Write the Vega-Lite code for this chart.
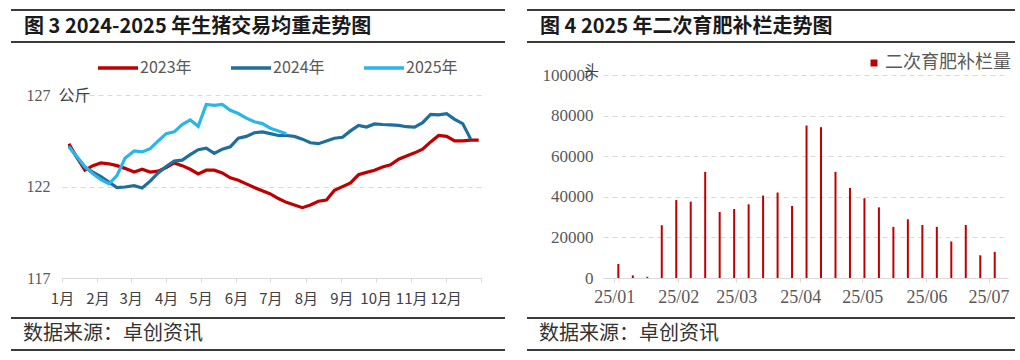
{
  "$schema": "https://vega.github.io/schema/vega-lite/v6.json",
  "background": "white",
  "padding": {"left": 10, "top": 9, "right": 0, "bottom": 0},
  "config": {"view": {"stroke": null}},
  "columns": 2,
  "spacing": {"row": 11, "column": 20},
  "resolve": {"scale": {"color": "independent"}, "legend": {"color": "independent"}},
  "datasets": {
    "weight": [
      {"year": "2023年", "date": "2023/01/07", "w": 124.35},
      {"year": "2023年", "date": "2023/01/14", "w": 123.6},
      {"year": "2023年", "date": "2023/01/21", "w": 122.9},
      {"year": "2023年", "date": "2023/01/28", "w": 123.15},
      {"year": "2023年", "date": "2023/02/04", "w": 123.3},
      {"year": "2023年", "date": "2023/02/11", "w": 123.25},
      {"year": "2023年", "date": "2023/02/18", "w": 123.15},
      {"year": "2023年", "date": "2023/02/25", "w": 123.0},
      {"year": "2023年", "date": "2023/03/04", "w": 122.8},
      {"year": "2023年", "date": "2023/03/11", "w": 122.95},
      {"year": "2023年", "date": "2023/03/18", "w": 122.8},
      {"year": "2023年", "date": "2023/03/25", "w": 122.85},
      {"year": "2023年", "date": "2023/04/01", "w": 123.05},
      {"year": "2023年", "date": "2023/04/08", "w": 123.3},
      {"year": "2023年", "date": "2023/04/15", "w": 123.15},
      {"year": "2023年", "date": "2023/04/22", "w": 122.95},
      {"year": "2023年", "date": "2023/04/29", "w": 122.7},
      {"year": "2023年", "date": "2023/05/06", "w": 122.9},
      {"year": "2023年", "date": "2023/05/13", "w": 122.9},
      {"year": "2023年", "date": "2023/05/20", "w": 122.75},
      {"year": "2023年", "date": "2023/05/27", "w": 122.48},
      {"year": "2023年", "date": "2023/06/03", "w": 122.35},
      {"year": "2023年", "date": "2023/06/10", "w": 122.15},
      {"year": "2023年", "date": "2023/06/17", "w": 121.95},
      {"year": "2023年", "date": "2023/06/24", "w": 121.77},
      {"year": "2023年", "date": "2023/07/01", "w": 121.6},
      {"year": "2023年", "date": "2023/07/08", "w": 121.35},
      {"year": "2023年", "date": "2023/07/15", "w": 121.14},
      {"year": "2023年", "date": "2023/07/22", "w": 121.0},
      {"year": "2023年", "date": "2023/07/29", "w": 120.85},
      {"year": "2023年", "date": "2023/08/05", "w": 121.0},
      {"year": "2023年", "date": "2023/08/12", "w": 121.2},
      {"year": "2023年", "date": "2023/08/19", "w": 121.27},
      {"year": "2023年", "date": "2023/08/26", "w": 121.8},
      {"year": "2023年", "date": "2023/09/02", "w": 122.0},
      {"year": "2023年", "date": "2023/09/09", "w": 122.2},
      {"year": "2023年", "date": "2023/09/16", "w": 122.65},
      {"year": "2023年", "date": "2023/09/23", "w": 122.78},
      {"year": "2023年", "date": "2023/09/30", "w": 122.9},
      {"year": "2023年", "date": "2023/10/07", "w": 123.08},
      {"year": "2023年", "date": "2023/10/14", "w": 123.2},
      {"year": "2023年", "date": "2023/10/21", "w": 123.5},
      {"year": "2023年", "date": "2023/10/28", "w": 123.68},
      {"year": "2023年", "date": "2023/11/04", "w": 123.85},
      {"year": "2023年", "date": "2023/11/11", "w": 124.05},
      {"year": "2023年", "date": "2023/11/18", "w": 124.45},
      {"year": "2023年", "date": "2023/11/25", "w": 124.8},
      {"year": "2023年", "date": "2023/12/02", "w": 124.75},
      {"year": "2023年", "date": "2023/12/09", "w": 124.5},
      {"year": "2023年", "date": "2023/12/16", "w": 124.5},
      {"year": "2023年", "date": "2023/12/23", "w": 124.55},
      {"year": "2023年", "date": "2023/12/30", "w": 124.55},
      {"year": "2024年", "date": "2024/01/07", "w": 124.22},
      {"year": "2024年", "date": "2024/01/14", "w": 123.6},
      {"year": "2024年", "date": "2024/01/21", "w": 123.05},
      {"year": "2024年", "date": "2024/01/28", "w": 122.8},
      {"year": "2024年", "date": "2024/02/04", "w": 122.55},
      {"year": "2024年", "date": "2024/02/11", "w": 122.25},
      {"year": "2024年", "date": "2024/02/18", "w": 121.95},
      {"year": "2024年", "date": "2024/02/25", "w": 121.98},
      {"year": "2024年", "date": "2024/03/04", "w": 122.05},
      {"year": "2024年", "date": "2024/03/11", "w": 121.93},
      {"year": "2024年", "date": "2024/03/18", "w": 122.3},
      {"year": "2024年", "date": "2024/03/25", "w": 122.75},
      {"year": "2024年", "date": "2024/04/01", "w": 123.1},
      {"year": "2024年", "date": "2024/04/08", "w": 123.4},
      {"year": "2024年", "date": "2024/04/15", "w": 123.45},
      {"year": "2024年", "date": "2024/04/22", "w": 123.75},
      {"year": "2024年", "date": "2024/04/29", "w": 124.02},
      {"year": "2024年", "date": "2024/05/06", "w": 124.1},
      {"year": "2024年", "date": "2024/05/13", "w": 123.82},
      {"year": "2024年", "date": "2024/05/20", "w": 124.05},
      {"year": "2024年", "date": "2024/05/27", "w": 124.18},
      {"year": "2024年", "date": "2024/06/03", "w": 124.65},
      {"year": "2024年", "date": "2024/06/10", "w": 124.75},
      {"year": "2024年", "date": "2024/06/17", "w": 124.95},
      {"year": "2024年", "date": "2024/06/24", "w": 125.0},
      {"year": "2024年", "date": "2024/07/01", "w": 124.9},
      {"year": "2024年", "date": "2024/07/08", "w": 124.8},
      {"year": "2024年", "date": "2024/07/15", "w": 124.8},
      {"year": "2024年", "date": "2024/07/22", "w": 124.75},
      {"year": "2024年", "date": "2024/07/29", "w": 124.6},
      {"year": "2024年", "date": "2024/08/05", "w": 124.4},
      {"year": "2024年", "date": "2024/08/12", "w": 124.35},
      {"year": "2024年", "date": "2024/08/19", "w": 124.5},
      {"year": "2024年", "date": "2024/08/26", "w": 124.65},
      {"year": "2024年", "date": "2024/09/02", "w": 124.7},
      {"year": "2024年", "date": "2024/09/09", "w": 125.05},
      {"year": "2024年", "date": "2024/09/16", "w": 125.35},
      {"year": "2024年", "date": "2024/09/23", "w": 125.26},
      {"year": "2024年", "date": "2024/09/30", "w": 125.43},
      {"year": "2024年", "date": "2024/10/07", "w": 125.4},
      {"year": "2024年", "date": "2024/10/14", "w": 125.38},
      {"year": "2024年", "date": "2024/10/21", "w": 125.35},
      {"year": "2024年", "date": "2024/10/28", "w": 125.28},
      {"year": "2024年", "date": "2024/11/04", "w": 125.26},
      {"year": "2024年", "date": "2024/11/11", "w": 125.5},
      {"year": "2024年", "date": "2024/11/18", "w": 125.95},
      {"year": "2024年", "date": "2024/11/25", "w": 125.93},
      {"year": "2024年", "date": "2024/12/02", "w": 125.99},
      {"year": "2024年", "date": "2024/12/09", "w": 125.68},
      {"year": "2024年", "date": "2024/12/16", "w": 125.45},
      {"year": "2024年", "date": "2024/12/23", "w": 124.6},
      {"year": "2025年", "date": "2025/01/07", "w": 124.18},
      {"year": "2025年", "date": "2025/01/14", "w": 123.65},
      {"year": "2025年", "date": "2025/01/21", "w": 123.1},
      {"year": "2025年", "date": "2025/01/28", "w": 122.7},
      {"year": "2025年", "date": "2025/02/04", "w": 122.38},
      {"year": "2025年", "date": "2025/02/11", "w": 122.15},
      {"year": "2025年", "date": "2025/02/18", "w": 122.6},
      {"year": "2025年", "date": "2025/02/25", "w": 123.55},
      {"year": "2025年", "date": "2025/03/04", "w": 123.95},
      {"year": "2025年", "date": "2025/03/11", "w": 123.9},
      {"year": "2025年", "date": "2025/03/18", "w": 124.08},
      {"year": "2025年", "date": "2025/03/25", "w": 124.5},
      {"year": "2025年", "date": "2025/04/01", "w": 124.9},
      {"year": "2025年", "date": "2025/04/08", "w": 125.0},
      {"year": "2025年", "date": "2025/04/15", "w": 125.4},
      {"year": "2025年", "date": "2025/04/22", "w": 125.65},
      {"year": "2025年", "date": "2025/04/29", "w": 125.3},
      {"year": "2025年", "date": "2025/05/06", "w": 126.5},
      {"year": "2025年", "date": "2025/05/13", "w": 126.45},
      {"year": "2025年", "date": "2025/05/20", "w": 126.5},
      {"year": "2025年", "date": "2025/05/27", "w": 126.18},
      {"year": "2025年", "date": "2025/06/03", "w": 126.0},
      {"year": "2025年", "date": "2025/06/10", "w": 125.75},
      {"year": "2025年", "date": "2025/06/17", "w": 125.55},
      {"year": "2025年", "date": "2025/06/24", "w": 125.45},
      {"year": "2025年", "date": "2025/07/01", "w": 125.2},
      {"year": "2025年", "date": "2025/07/08", "w": 125.05},
      {"year": "2025年", "date": "2025/07/15", "w": 124.9}
    ],
    "restock": [
      {"date": "2025/01/03", "v": 6900},
      {"date": "2025/01/10", "v": 1300},
      {"date": "2025/01/17", "v": 600},
      {"date": "2025/01/24", "v": 26000},
      {"date": "2025/01/31", "v": 38400},
      {"date": "2025/02/07", "v": 37600},
      {"date": "2025/02/14", "v": 52300},
      {"date": "2025/02/21", "v": 32500},
      {"date": "2025/02/28", "v": 34000},
      {"date": "2025/03/07", "v": 36300},
      {"date": "2025/03/14", "v": 40600},
      {"date": "2025/03/21", "v": 42100},
      {"date": "2025/03/28", "v": 35500},
      {"date": "2025/04/04", "v": 75100},
      {"date": "2025/04/11", "v": 74300},
      {"date": "2025/04/18", "v": 52300},
      {"date": "2025/04/25", "v": 44400},
      {"date": "2025/05/02", "v": 39300},
      {"date": "2025/05/09", "v": 34800},
      {"date": "2025/05/16", "v": 25200},
      {"date": "2025/05/23", "v": 28900},
      {"date": "2025/05/30", "v": 26100},
      {"date": "2025/06/06", "v": 25200},
      {"date": "2025/06/13", "v": 18000},
      {"date": "2025/06/20", "v": 26100},
      {"date": "2025/06/27", "v": 11200},
      {"date": "2025/07/04", "v": 12900}
    ]
  },
  "concat": [
    {
      "width": 443, "height": 32,
      "data": {"values": [{"t": "图 3 2024-2025 年生猪交易均重走势图"}]},
      "encoding": {
        "x": {"datum": 0, "type": "quantitative", "scale": {"domain": [0, 1], "range": [-51, 443]}, "axis": null}
      },
      "layer": [
        {"mark": {"type": "rule", "strokeWidth": 2, "color": "#3a3a3a"}, "encoding": {"x2": {"datum": 1}, "y": {"datum": 0, "type": "quantitative", "scale": {"domain": [0, 1]}, "axis": null}}},
        {"mark": {"type": "rule", "strokeWidth": 2, "color": "#3a3a3a"}, "encoding": {"x2": {"datum": 1}, "y": {"datum": 1, "type": "quantitative", "axis": null}}},
        {"mark": {"type": "text", "align": "left", "baseline": "middle", "dx": 13, "dy": 1, "font": "Noto Sans CJK SC", "fontSize": 20, "fontWeight": "bold", "color": "#1a1a1a"},
         "encoding": {"text": {"field": "t"}, "y": {"datum": 0.5, "type": "quantitative", "axis": null}}}
      ]
    },
    {
      "width": 412, "height": 32,
      "data": {"values": [{"t": "图 4 2025 年二次育肥补栏走势图"}]},
      "encoding": {
        "x": {"datum": 0, "type": "quantitative", "scale": {"domain": [0, 1], "range": [-76, 412]}, "axis": null}
      },
      "layer": [
        {"mark": {"type": "rule", "strokeWidth": 2, "color": "#3a3a3a"}, "encoding": {"x2": {"datum": 1}, "y": {"datum": 0, "type": "quantitative", "scale": {"domain": [0, 1]}, "axis": null}}},
        {"mark": {"type": "rule", "strokeWidth": 2, "color": "#3a3a3a"}, "encoding": {"x2": {"datum": 1}, "y": {"datum": 1, "type": "quantitative", "axis": null}}},
        {"mark": {"type": "text", "align": "left", "baseline": "middle", "dx": 13, "dy": 1, "font": "Noto Sans CJK SC", "fontSize": 20, "fontWeight": "bold", "color": "#1a1a1a"},
         "encoding": {"text": {"field": "t"}, "y": {"datum": 0.5, "type": "quantitative", "axis": null}}}
      ]
    },
    {
      "width": 419, "height": 203,
      "data": {"name": "weight"},
      "mark": {"type": "line", "strokeWidth": 3.2},
      "encoding": {
        "x": {
          "field": "date", "timeUnit": "monthdate", "type": "temporal",
          "scale": {"domain": [{"year": 2012, "month": 1, "date": 1}, {"year": 2013, "month": 1, "date": 1}]},
          "axis": {
            "title": null, "grid": false,
            "values": [
              {"year": 2012, "month": 1, "date": 1}, {"year": 2012, "month": 2, "date": 1}, {"year": 2012, "month": 3, "date": 1},
              {"year": 2012, "month": 4, "date": 1}, {"year": 2012, "month": 5, "date": 1}, {"year": 2012, "month": 6, "date": 1},
              {"year": 2012, "month": 7, "date": 1}, {"year": 2012, "month": 8, "date": 1}, {"year": 2012, "month": 9, "date": 1},
              {"year": 2012, "month": 10, "date": 1}, {"year": 2012, "month": 11, "date": 1}, {"year": 2012, "month": 12, "date": 1},
              {"year": 2013, "month": 1, "date": 1}
            ],
            "labelExpr": "year(datum.value) > 2012 ? '' : (month(datum.value) + 1) + '月'",
            "domainColor": "#D9D9D9", "tickColor": "#D9D9D9", "tickSize": 4,
            "labelFont": "Noto Sans CJK SC", "labelFontSize": 15, "labelColor": "#404040", "labelPadding": 9,
            "labelOverlap": false, "labelFlush": false
          }
        },
        "y": {
          "field": "w", "type": "quantitative",
          "scale": {"domain": [117, 128.11], "nice": false, "zero": false},
          "axis": {
            "values": [117, 122, 127],
            "title": "公斤", "titleAngle": 0, "titleX": -4, "titleY": 20, "titleAlign": "left", "titleBaseline": "middle",
            "titleFont": "Noto Sans CJK SC", "titleFontSize": 16, "titleFontWeight": "normal", "titleColor": "#404040",
            "grid": true, "gridDash": [5, 4], "gridColor": "#D9D9D9", "domain": false, "ticks": false,
            "labelFont": "Liberation Serif", "labelFontSize": 16, "labelColor": "#595959", "labelPadding": 12,
            "minExtent": 51
          }
        },
        "color": {
          "field": "year", "type": "nominal",
          "scale": {"domain": ["2023年", "2024年", "2025年"], "range": ["#C00000", "#1F6E9C", "#2BB6EA"]},
          "legend": {
            "orient": "none", "legendX": 48, "legendY": -15, "direction": "horizontal", "title": null,
            "symbolType": "M-4,0H4", "symbolSize": 100, "symbolStrokeWidth": 3.5, "labelOffset": 14, "columnPadding": 32,
            "labelFont": "Noto Sans CJK SC", "labelFontSize": 16, "labelColor": "#595959", "padding": 0
          }
        }
      }
    },
    {
      "width": 405, "height": 203,
      "data": {"name": "restock"},
      "mark": {"type": "bar", "size": 2},
      "encoding": {
        "x": {
          "field": "date", "type": "temporal",
          "scale": {"domain": [{"year": 2024, "month": 12, "date": 29}, {"year": 2025, "month": 7, "date": 8}]},
          "axis": {
            "title": null, "grid": false, "format": "%y/%m",
            "values": [
              {"year": 2025, "month": 1, "date": 1}, {"year": 2025, "month": 2, "date": 1}, {"year": 2025, "month": 3, "date": 1},
              {"year": 2025, "month": 4, "date": 1}, {"year": 2025, "month": 5, "date": 1}, {"year": 2025, "month": 6, "date": 1},
              {"year": 2025, "month": 7, "date": 1}
            ],
            "domainColor": "#D9D9D9", "tickColor": "#D9D9D9", "tickSize": 4,
            "labelFont": "Liberation Serif", "labelFontSize": 18, "labelColor": "#595959", "labelPadding": 6,
            "labelOverlap": false, "labelFlush": false
          }
        },
        "y": {
          "field": "v", "type": "quantitative",
          "scale": {"domain": [0, 100000], "nice": false},
          "axis": {
            "values": [0, 20000, 40000, 60000, 80000, 100000], "format": "d",
            "title": "头", "titleAngle": 0, "titleX": -12, "titleY": -5, "titleAlign": "center", "titleBaseline": "middle",
            "titleFont": "Noto Sans CJK SC", "titleFontSize": 15, "titleFontWeight": "normal", "titleColor": "#404040",
            "grid": true, "gridDash": [5, 4], "gridColor": "#D9D9D9", "domain": false, "ticks": false,
            "labelFont": "Liberation Serif", "labelFontSize": 17, "labelColor": "#595959", "labelPadding": 10,
            "minExtent": 76
          }
        },
        "color": {
          "datum": "二次育肥补栏量",
          "scale": {"range": ["#C00000"]},
          "legend": {
            "orient": "none", "legendX": 262, "legendY": -21, "title": null,
            "symbolType": "square", "symbolSize": 49, "labelOffset": 2,
            "labelFont": "Noto Sans CJK SC", "labelFontSize": 18, "labelColor": "#595959", "padding": 0
          }
        }
      }
    },
    {
      "width": 443, "height": 32,
      "data": {"values": [{"t": "数据来源：卓创资讯"}]},
      "encoding": {
        "x": {"datum": 0, "type": "quantitative", "scale": {"domain": [0, 1], "range": [-51, 443]}, "axis": null}
      },
      "layer": [
        {"mark": {"type": "rule", "strokeWidth": 2, "color": "#3a3a3a"}, "encoding": {"x2": {"datum": 1}, "y": {"datum": 0, "type": "quantitative", "scale": {"domain": [0, 1]}, "axis": null}}},
        {"mark": {"type": "rule", "strokeWidth": 2, "color": "#3a3a3a"}, "encoding": {"x2": {"datum": 1}, "y": {"datum": 1, "type": "quantitative", "axis": null}}},
        {"mark": {"type": "text", "align": "left", "baseline": "middle", "dx": 12, "font": "Noto Sans CJK SC", "fontSize": 20, "color": "#333333"},
         "encoding": {"text": {"field": "t"}, "y": {"datum": 0.5, "type": "quantitative", "axis": null}}}
      ]
    },
    {
      "width": 412, "height": 32,
      "data": {"values": [{"t": "数据来源：卓创资讯"}]},
      "encoding": {
        "x": {"datum": 0, "type": "quantitative", "scale": {"domain": [0, 1], "range": [-76, 412]}, "axis": null}
      },
      "layer": [
        {"mark": {"type": "rule", "strokeWidth": 2, "color": "#3a3a3a"}, "encoding": {"x2": {"datum": 1}, "y": {"datum": 0, "type": "quantitative", "scale": {"domain": [0, 1]}, "axis": null}}},
        {"mark": {"type": "rule", "strokeWidth": 2, "color": "#3a3a3a"}, "encoding": {"x2": {"datum": 1}, "y": {"datum": 1, "type": "quantitative", "axis": null}}},
        {"mark": {"type": "text", "align": "left", "baseline": "middle", "dx": 12, "font": "Noto Sans CJK SC", "fontSize": 20, "color": "#333333"},
         "encoding": {"text": {"field": "t"}, "y": {"datum": 0.5, "type": "quantitative", "axis": null}}}
      ]
    }
  ]
}
